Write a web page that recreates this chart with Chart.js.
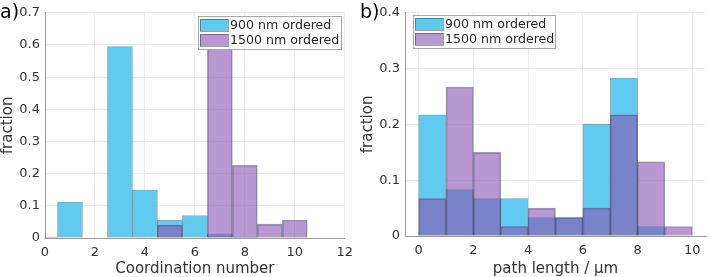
<!DOCTYPE html>
<html>
<head>
<meta charset="utf-8">
<script src="https://cdn.jsdelivr.net/npm/chart.js@4"></script>
<style>
  body { margin: 0; background: #fff; }
  canvas { position: absolute; top: 0; }
</style>
</head>
<body>
<canvas id="chartA" width="360" height="277" style="left:0"></canvas>
<canvas id="chartB" width="349" height="277" style="left:360px"></canvas>
<script>
// panel a) coordination number histogram (bin centres)
const coordBins = [0, 1, 2, 3, 4, 5, 6, 7, 8, 9, 10];
const coord900 = [0, 0.111, 0, 0.595, 0.149, 0.055, 0.07, 0.012, 0.003, 0, 0];
const coord1500 = [0.003, 0, 0, 0, 0, 0.04, 0, 0.6, 0.226, 0.043, 0.056];
const coordTicks = [0, 2, 4, 6, 8, 10, 12];

// panel b) path length histogram (bin centres, µm)
const pathBins = [0.5, 1.5, 2.5, 3.5, 4.5, 5.5, 6.5, 7.5, 8.5, 9.5];
const path900 = [0.217, 0.083, 0.067, 0.067, 0.033, 0.033, 0.2, 0.283, 0.017, 0];
const path1500 = [0.067, 0.267, 0.15, 0.017, 0.05, 0.033, 0.05, 0.217, 0.133, 0.017];
const pathTicks = [0, 2, 4, 6, 8, 10];

const seriesNames = ['900 nm ordered', '1500 nm ordered'];

Chart.defaults.font.family = '"DejaVu Sans", sans-serif';
Chart.defaults.color = '#333';

const CYAN = 'rgb(97, 202, 239)';
const PURPLE = 'rgba(135, 83, 177, 0.6)';
const PURPLE_SOLID = 'rgb(183, 152, 208)';
const EDGE = 'rgba(30, 50, 80, 0.45)';

const toPoints = (xs, ys) => xs.map((x, i) => ({ x: x, y: ys[i] }));

// panel letter + boxed legend drawn on top of the plot
const overlay = {
    id: 'overlay',
    afterDraw(chart, args, opts) {
        const c = chart.ctx;
        c.save();
        c.fillStyle = '#000';
        c.font = '19px "DejaVu Sans"';
        c.textBaseline = 'middle';
        c.textAlign = 'left';
        c.fillText(opts.label, opts.labelX, opts.labelY);

        const L = opts.legend;
        c.fillStyle = '#fff';
        c.fillRect(L.x, L.y, L.w, L.h);
        c.strokeStyle = '#a8a8a8';
        c.lineWidth = 1;
        c.strokeRect(L.x + 0.5, L.y + 0.5, L.w, L.h);
        c.font = '12.6px "DejaVu Sans"';
        chart.data.datasets.forEach((ds, i) => {
            const py = L.y + 3 + i * 15;
            c.fillStyle = ds.legendColor;
            c.fillRect(L.x + 2, py, 28, 12);
            c.strokeStyle = EDGE;
            c.strokeRect(L.x + 2.5, py + 0.5, 28, 12);
            c.fillStyle = '#262626';
            c.fillText(ds.label, L.x + 32, py + 6.5);
        });
        c.restore();
    }
};

function makeChart(id, o) {
    return new Chart(document.getElementById(id), {
        type: 'bar',
        data: {
            datasets: [
                {
                    label: seriesNames[0],
                    data: toPoints(o.bins, o.a),
                    backgroundColor: CYAN,
                    legendColor: CYAN,
                    borderColor: EDGE,
                    borderWidth: 1,
                    order: 2
                },
                {
                    label: seriesNames[1],
                    data: toPoints(o.bins, o.b),
                    backgroundColor: PURPLE,
                    legendColor: PURPLE_SOLID,
                    borderColor: EDGE,
                    borderWidth: 1,
                    order: 1
                }
            ]
        },
        options: {
            responsive: false,
            animation: false,
            devicePixelRatio: 1,
            layout: { autoPadding: false, padding: o.padding },
            datasets: {
                bar: { grouped: false, barPercentage: 1, categoryPercentage: 1 }
            },
            plugins: {
                legend: { display: false },
                tooltip: { enabled: false },
                overlay: o.overlay
            },
            scales: {
                x: {
                    type: 'linear',
                    offset: false,
                    min: o.xMin,
                    max: o.xMax,
                    afterBuildTicks: (s) => { s.ticks = o.xTicks.map(v => ({ value: v })); },
                    afterFit: (s) => { s.height = o.xHeight; },
                    grid: { color: '#ebebeb', drawTicks: false, offset: false },
                    border: { color: '#9a9a9a' },
                    ticks: { font: { size: 13 }, padding: 7, maxRotation: 0, color: '#333' },
                    title: {
                        display: true,
                        text: o.xTitle,
                        font: { size: 15, lineHeight: 1 },
                        padding: 0,
                        color: '#333'
                    }
                },
                y: {
                    min: 0,
                    max: o.yMax,
                    afterFit: (s) => { s.width = o.yWidth; },
                    grid: { color: '#ebebeb', drawTicks: false },
                    border: { color: '#9a9a9a' },
                    ticks: { stepSize: 0.1, font: { size: 13 }, padding: 5, color: '#333' },
                    title: {
                        display: true,
                        text: 'fraction',
                        font: { size: 15, lineHeight: 1 },
                        padding: { top: 1, bottom: 0 },
                        color: '#333'
                    }
                }
            }
        },
        plugins: [overlay]
    });
}

makeChart('chartA', {
    bins: coordBins, a: coord900, b: coord1500,
    xMin: 0, xMax: 12, xTicks: coordTicks, yMax: 0.7,
    xTitle: 'Coordination number',
    padding: { left: 0, right: 12, top: 10, bottom: 0 },
    xHeight: 39, yWidth: 45,
    overlay: { label: 'a)', labelX: 0, labelY: 13, legend: { x: 198, y: 16, w: 143, h: 33 } }
});

makeChart('chartB', {
    bins: pathBins, a: path900, b: path1500,
    xMin: -0.5, xMax: 10.5, xTicks: pathTicks, yMax: 0.4,
    xTitle: 'path length / µm',
    padding: { left: 0, right: 3, top: 8, bottom: 0 },
    xHeight: 41, yWidth: 45,
    overlay: { label: 'b)', labelX: 0, labelY: 13, legend: { x: 53, y: 15, w: 142, h: 33 } }
});
</script>
</body>
</html>
